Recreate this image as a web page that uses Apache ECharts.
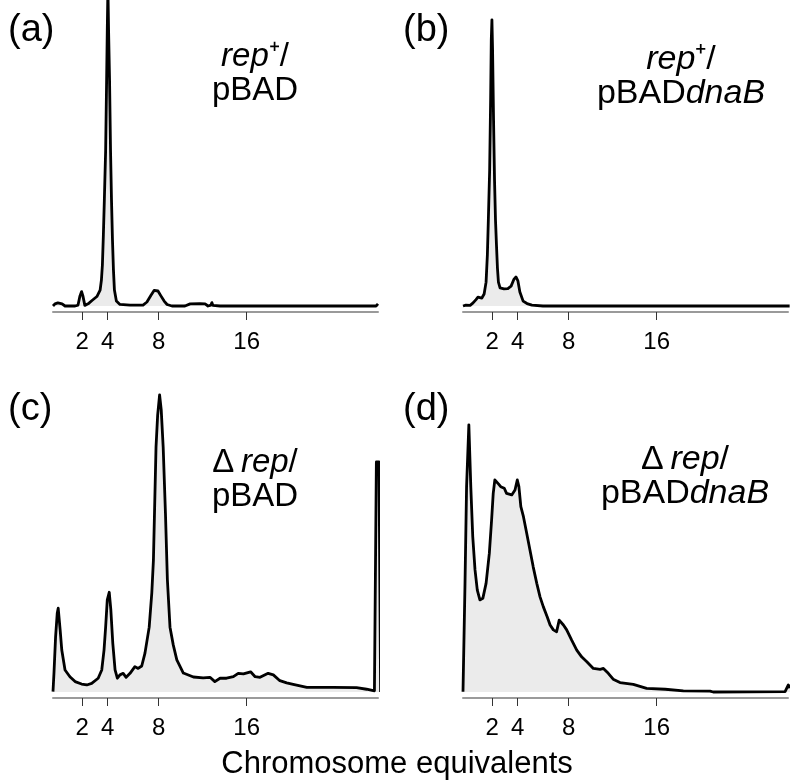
<!DOCTYPE html>
<html>
<head>
<meta charset="utf-8">
<script src="https://cdn.jsdelivr.net/npm/echarts@6/dist/echarts.min.js"></script>
<style>
html,body{margin:0;padding:0;background:#fff;}
#chart{width:795px;height:781px;}
</style>
</head>
<body>
<div id="chart"></div>
<script>
// x: instrument channel (0..1000), y: relative cell count (% of panel scale)
const tickLabels = ['2', '4', '8', '16'];
const tickChannels = [90, 168, 325, 596];
const xAxisTitle = 'Chromosome equivalents';
const panelLetters = ['(a)', '(b)', '(c)', '(d)'];

const histA = [[0,0],[6,0.7],[15,1.0],[28,0.7],[37,0],[68,0],[77,0.3],[83,3.3],[88,4.7],[92,3.3],[98,0.2],[108,0.7],[120,1.8],[135,3.1],[145,5.2],[149,8.5],[152,13.4],[155,23.2],[158,34.6],[162,51],[165,73.9],[167,90.2],[169,104],[171,90.2],[174,73.9],[177,51],[180,34.6],[183,21.6],[186,11.8],[189,5.2],[195,1.6],[206,0.5],[237,0.3],[268,0.3],[277,0.3],[289,1.3],[302,3.6],[311,5.1],[317,5.4],[323,4.9],[332,3.3],[342,1.6],[351,0.5],[366,0],[406,0],[422,0.7],[452,0.8],[468,0.7],[477,0],[486,0.3],[489,1.1],[492,0.2],[514,0],[994,0],[1000,0.7]];

const histB = [[0,0],[9,0.3],[22,0.2],[31,1.0],[40,2.1],[46,2.9],[52,2.8],[58,2.6],[65,3.9],[71,7.8],[75,16.7],[78,28.1],[82,44.4],[85,67.3],[87,86.9],[89,93.5],[91,83.7],[94,60.8],[97,41.2],[100,28.1],[103,19.9],[106,12.4],[109,7.8],[114,5.9],[126,5.6],[138,5.7],[148,6.5],[157,8.8],[163,9.5],[169,8.2],[175,4.6],[185,1.6],[197,0.8],[212,0.3],[246,0],[1005,0]];

const histC = [[0,0.1],[3,6.2],[8,18.1],[13,25.7],[16,27.4],[22,20.3],[27,13.7],[37,7.2],[52,5.0],[68,3.4],[88,2.6],[104,2.3],[119,2.8],[139,4.5],[150,7.2],[157,13.7],[162,21.3],[167,30.1],[173,32.6],[178,26.8],[184,15.9],[191,7.2],[198,4.5],[206,5.6],[216,6.1],[225,4.8],[237,6.1],[252,8.3],[262,7.7],[273,8.5],[283,12.7],[296,21.2],[304,32.4],[309,43.1],[317,80.1],[322,90.5],[328,97.1],[333,92.2],[339,80.1],[346,58.5],[352,36.6],[360,21.2],[370,15.4],[381,10.5],[401,6.2],[432,4.9],[462,4.6],[483,4.8],[498,3.4],[514,4.5],[534,4.5],[555,5.0],[570,6.1],[586,5.9],[608,6.6],[622,5.0],[637,4.8],[662,6.1],[678,5.6],[698,3.7],[719,3.0],[739,2.5],[760,2.0],[781,1.5],[862,1.5],[934,1.4],[965,0.9],[989,0.4],[995,75.2],[1003,75.2],[1008,0]];

const histD = [[0,0.1],[6,34.4],[11,67.1],[18,87.3],[24,67.1],[30,50.8],[37,39.9],[44,33.3],[52,30.1],[61,30.6],[71,35.5],[81,45.3],[88,56.2],[93,64.9],[98,69.3],[104,69.5],[109,68.0],[116,67.1],[122,67.6],[127,66.6],[134,64.9],[150,64.4],[160,66.0],[167,69.3],[172,67.1],[178,60.6],[186,57.3],[196,51.9],[206,46.4],[216,40.9],[227,35.5],[237,31.1],[247,27.9],[259,24.6],[268,21.9],[278,20.3],[288,19.7],[296,23.5],[309,21.9],[319,20.3],[334,17.0],[350,13.7],[365,11.5],[381,9.9],[401,7.7],[422,7.4],[432,7.7],[447,6.1],[462,4.2],[483,3.1],[524,2.5],[565,1.2],[622,0.9],[678,0.4],[760,0.3],[770,0],[991,0.1],[1001,2.3],[1006,1.3]];

const hists = [histA, histB, histC, histD];

const FONT = '"Liberation Sans", Arial, Helvetica, sans-serif';
const grids = [
  {left: 53, top: 0, width: 325, height: 306},
  {left: 463, top: 0, width: 325, height: 306},
  {left: 53, top: 386, width: 325, height: 306},
  {left: 463, top: 386, width: 325, height: 306}
];

const chart = echarts.init(document.getElementById('chart'), null, {renderer: 'canvas'});

const xAxes = grids.map((g, i) => ({
  type: 'value', gridIndex: i, min: 0, max: 1000, offset: 6,
  axisLine: {show: true, onZero: false, lineStyle: {color: '#9a9a9a', width: 2}},
  axisTick: {show: true, customValues: tickChannels, length: 8, lineStyle: {color: '#333', width: 1}},
  axisLabel: {show: true, customValues: tickChannels, margin: 18, fontSize: 24, color: '#000', fontFamily: FONT,
    formatter: v => tickLabels[tickChannels.indexOf(Math.round(v))] || ''},
  splitLine: {show: false}
}));
const yAxes = grids.map((g, i) => ({type: 'value', gridIndex: i, min: 0, max: 100, show: false, splitLine: {show: false}}));

const series = hists.map((h, i) => ({
  type: 'line', xAxisIndex: i, yAxisIndex: i, data: h, showSymbol: false, symbol: 'none',
  clip: false, silent: true, smooth: false,
  lineStyle: {color: '#000', width: 2.8, join: 'round'},
  areaStyle: {color: '#ebebeb', opacity: 1}
}));

const labelPos = [[8, 31], [403, 31], [8, 410], [403, 410]];
const annot = [
  {x: 255, y: 40, size: 33, text: '{i|rep}⁺/\npBAD'},
  {x: 681, y: 43, size: 34, text: '{i|rep}⁺/\npBAD{i|dnaB}'},
  {x: 255, y: 446, size: 33, text: 'Δ\u2009{i|rep}/\npBAD'},
  {x: 685, y: 443, size: 34, text: 'Δ\u2009{i|rep}/\npBAD{i|dnaB}'}
];

const graphic = [];
panelLetters.forEach((t, i) => graphic.push({
  type: 'text', x: labelPos[i][0], y: labelPos[i][1], silent: true,
  style: {text: t, fontSize: 38, fontFamily: FONT, fill: '#000', textAlign: 'left', textVerticalAlign: 'middle'}
}));
annot.forEach(a => graphic.push({
  type: 'text', x: a.x, y: a.y, silent: true,
  style: {text: a.text, fontSize: a.size, fontFamily: FONT, fill: '#000', textAlign: 'center', textVerticalAlign: 'top', lineHeight: 34,
    rich: {i: {fontStyle: 'italic', fontSize: a.size, fontFamily: FONT, lineHeight: 34}}}
}));
graphic.push({
  type: 'text', x: 397, y: 764, silent: true,
  style: {text: xAxisTitle, fontSize: 31, fontFamily: FONT, fill: '#000', textAlign: 'center', textVerticalAlign: 'middle'}
});

chart.setOption({
  animation: false,
  backgroundColor: '#fff',
  grid: grids.map(g => Object.assign({outerBoundsMode: 'none', containLabel: false}, g)),
  xAxis: xAxes,
  yAxis: yAxes,
  series: series,
  graphic: graphic
});
</script>
</body>
</html>
